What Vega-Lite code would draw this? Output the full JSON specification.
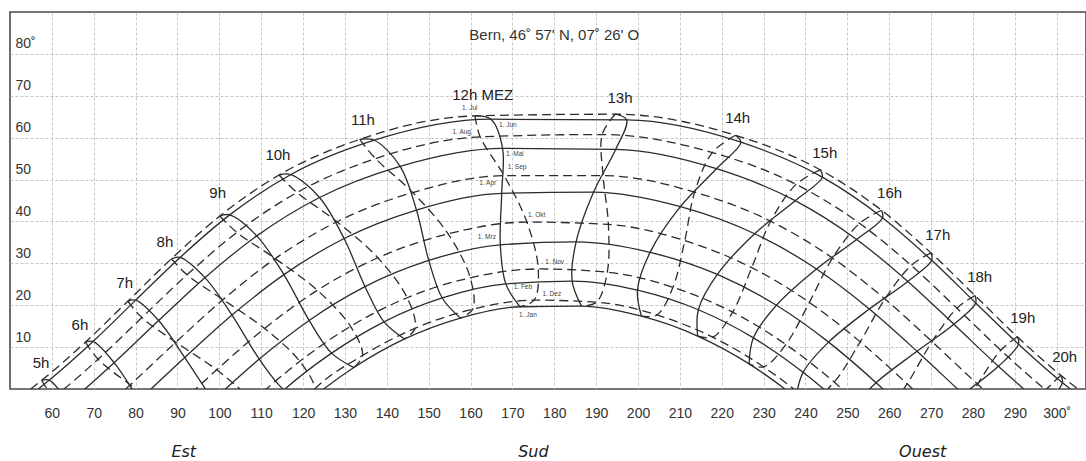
{
"$schema": "https://vega.github.io/schema/vega-lite/v6.json",
"width": 1076, "height": 377,
"autosize": {"type": "none"},
"padding": {"left": 10, "top": 12, "right": 0, "bottom": 72},
"background": "white",
"config": {
 "view": {"stroke": "#4a4a4a", "strokeWidth": 1.6},
 "axis": {"gridColor": "#b8b8b8", "gridDash": [3, 2], "gridWidth": 0.8, "labelFont": "Liberation Sans", "labelColor": "#333", "labelFontSize": 14, "ticks": false, "tickSize": 0, "domain": false, "labelFlush": false, "labelOverlap": false}
},
"datasets": {
 "pts": [
  {"d":1,"k":13,"h":8,"az":121.02,"alt":-3.09},{"d":1,"k":13,"h":9,"az":132.13,"alt":5.12},{"d":1,"k":13,"h":10,"az":144.26,"alt":11.95},{"d":1,"k":13,"h":11,"az":157.57,"alt":16.94},{"d":1,"k":13,"h":12,"az":171.82,"alt":19.64},{"d":1,"k":13,"h":13,"az":186.49,"alt":19.79},{"d":1,"k":13,"h":14,"az":200.83,"alt":17.37},{"d":1,"k":13,"h":15,"az":214.25,"alt":12.63},{"d":1,"k":13,"h":16,"az":226.53,"alt":6.00},{"d":1,"k":13,"h":17,"az":237.73,"alt":-2.08},
  {"d":1,"k":13,"az":124.92,"alt":0},{"d":1,"k":13,"az":235.08,"alt":0},
  {"d":2,"k":2,"h":8,"az":115.44,"alt":-0.20},{"d":2,"k":2,"h":9,"az":126.81,"alt":8.56},{"d":2,"k":2,"h":10,"az":139.33,"alt":16.04},{"d":2,"k":2,"h":11,"az":153.24,"alt":21.73},{"d":2,"k":2,"h":12,"az":168.42,"alt":25.09},{"d":2,"k":2,"h":13,"az":184.27,"alt":25.75},{"d":2,"k":2,"h":14,"az":199.87,"alt":23.60},{"d":2,"k":2,"h":15,"az":214.41,"alt":18.92},{"d":2,"k":2,"h":16,"az":227.56,"alt":12.21},{"d":2,"k":2,"h":17,"az":239.42,"alt":3.98},{"d":2,"k":2,"h":18,"az":250.36,"alt":-5.28},
  {"d":2,"k":2,"az":115.67,"alt":0},{"d":2,"k":2,"az":244.33,"alt":0},
  {"d":3,"k":3,"h":7,"az":98.46,"alt":-2.78},{"d":3,"k":3,"h":8,"az":109.54,"alt":7.14},{"d":3,"k":3,"h":9,"az":121.45,"alt":16.37},{"d":3,"k":3,"h":10,"az":134.80,"alt":24.43},{"d":3,"k":3,"h":11,"az":150.03,"alt":30.68},{"d":3,"k":3,"h":12,"az":167.11,"alt":34.43},{"d":3,"k":3,"h":13,"az":185.21,"alt":35.11},{"d":3,"k":3,"h":14,"az":202.88,"alt":32.62},{"d":3,"k":3,"h":15,"az":218.95,"alt":27.35},{"d":3,"k":3,"h":16,"az":233.06,"alt":19.99},{"d":3,"k":3,"h":17,"az":245.52,"alt":11.19},{"d":3,"k":3,"h":18,"az":256.87,"alt":1.51},
  {"d":3,"k":3,"az":101.47,"alt":0},{"d":3,"k":3,"az":258.53,"alt":0},
  {"d":4,"k":4,"h":6,"az":80.77,"alt":-2.69},{"d":4,"k":4,"h":7,"az":91.74,"alt":7.51},{"d":4,"k":4,"h":8,"az":103.03,"alt":17.65},{"d":4,"k":4,"h":9,"az":115.42,"alt":27.30},{"d":4,"k":4,"h":10,"az":129.80,"alt":35.93},{"d":4,"k":4,"h":11,"az":147.08,"alt":42.73},{"d":4,"k":4,"h":12,"az":167.44,"alt":46.70},{"d":4,"k":4,"h":13,"az":189.38,"alt":46.99},{"d":4,"k":4,"h":14,"az":210.11,"alt":43.52},{"d":4,"k":4,"h":15,"az":227.86,"alt":37.06},{"d":4,"k":4,"h":16,"az":242.63,"alt":28.65},{"d":4,"k":4,"h":17,"az":255.25,"alt":19.10},{"d":4,"k":4,"h":18,"az":266.64,"alt":9.01},{"d":4,"k":4,"h":19,"az":277.61,"alt":-1.21},
  {"d":4,"k":4,"az":83.69,"alt":0},{"d":4,"k":4,"az":276.31,"alt":0},
  {"d":5,"k":5,"h":5,"az":63.96,"alt":-3.30},{"d":5,"k":5,"h":6,"az":74.86,"alt":6.28},{"d":5,"k":5,"h":7,"az":85.50,"alt":16.35},{"d":5,"k":5,"h":8,"az":96.56,"alt":26.58},{"d":5,"k":5,"h":9,"az":108.94,"alt":36.55},{"d":5,"k":5,"h":10,"az":123.93,"alt":45.72},{"d":5,"k":5,"h":11,"az":143.17,"alt":53.16},{"d":5,"k":5,"h":12,"az":167.65,"alt":57.45},{"d":5,"k":5,"h":13,"az":194.68,"alt":57.22},{"d":5,"k":5,"h":14,"az":218.73,"alt":52.59},{"d":5,"k":5,"h":15,"az":237.54,"alt":44.96},{"d":5,"k":5,"h":16,"az":252.22,"alt":35.70},{"d":5,"k":5,"h":17,"az":264.44,"alt":25.68},{"d":5,"k":5,"h":18,"az":275.44,"alt":15.46},{"d":5,"k":5,"h":19,"az":286.08,"alt":5.41},{"d":5,"k":5,"h":20,"az":297.02,"alt":-4.11},
  {"d":5,"k":5,"az":67.88,"alt":0},{"d":5,"k":5,"az":292.12,"alt":0},
  {"d":6,"k":6,"h":5,"az":59.35,"alt":2.11},{"d":6,"k":6,"h":6,"az":69.83,"alt":11.35},{"d":6,"k":6,"h":7,"az":80.03,"alt":21.22},{"d":6,"k":6,"h":8,"az":90.62,"alt":31.41},{"d":6,"k":6,"h":9,"az":102.47,"alt":41.57},{"d":6,"k":6,"h":10,"az":117.10,"alt":51.20},{"d":6,"k":6,"h":11,"az":137.02,"alt":59.39},{"d":6,"k":6,"h":12,"az":164.85,"alt":64.41},{"d":6,"k":6,"h":13,"az":197.28,"alt":64.23},{"d":6,"k":6,"h":14,"az":224.56,"alt":58.91},{"d":6,"k":6,"h":15,"az":244.03,"alt":50.58},{"d":6,"k":6,"h":16,"az":258.40,"alt":40.89},{"d":6,"k":6,"h":17,"az":270.14,"alt":30.72},{"d":6,"k":6,"h":18,"az":280.66,"alt":20.54},{"d":6,"k":6,"h":19,"az":290.88,"alt":10.70},{"d":6,"k":6,"h":20,"az":301.38,"alt":1.51},
  {"d":6,"k":6,"az":56.72,"alt":0},{"d":6,"k":6,"az":303.28,"alt":0},
  {"d":7,"k":7,"h":5,"az":57.56,"alt":2.07},{"d":7,"k":7,"h":6,"az":68.00,"alt":11.17},{"d":7,"k":7,"h":7,"az":78.14,"alt":20.95},{"d":7,"k":7,"h":8,"az":88.55,"alt":31.10},{"d":7,"k":7,"h":9,"az":100.11,"alt":41.30},{"d":7,"k":7,"h":10,"az":114.26,"alt":51.08},{"d":7,"k":7,"h":11,"az":133.52,"alt":59.59},{"d":7,"k":7,"h":12,"az":161.05,"alt":65.19},{"d":7,"k":7,"h":13,"az":194.54,"alt":65.60},{"d":7,"k":7,"h":14,"az":223.28,"alt":60.57},{"d":7,"k":7,"h":15,"az":243.50,"alt":52.33},{"d":7,"k":7,"h":16,"az":258.16,"alt":42.67},{"d":7,"k":7,"h":17,"az":269.97,"alt":32.50},{"d":7,"k":7,"h":18,"az":280.47,"alt":22.32},{"d":7,"k":7,"h":19,"az":290.61,"alt":12.46},{"d":7,"k":7,"h":20,"az":300.98,"alt":3.26},
  {"d":7,"k":7,"az":54.92,"alt":0},{"d":7,"k":7,"az":305.08,"alt":0},
  {"d":8,"k":8,"h":5,"az":60.22,"alt":-2.20},{"d":8,"k":8,"h":6,"az":71.04,"alt":7.12},{"d":8,"k":8,"h":7,"az":81.50,"alt":17.05},{"d":8,"k":8,"h":8,"az":92.27,"alt":27.26},{"d":8,"k":8,"h":9,"az":104.19,"alt":37.38},{"d":8,"k":8,"h":10,"az":118.55,"alt":46.90},{"d":8,"k":8,"h":11,"az":137.32,"alt":55.00},{"d":8,"k":8,"h":12,"az":162.30,"alt":60.18},{"d":8,"k":8,"h":13,"az":191.43,"alt":60.75},{"d":8,"k":8,"h":14,"az":217.74,"alt":56.45},{"d":8,"k":8,"h":15,"az":237.76,"alt":48.85},{"d":8,"k":8,"h":16,"az":252.92,"alt":39.55},{"d":8,"k":8,"h":17,"az":265.25,"alt":29.50},{"d":8,"k":8,"h":18,"az":276.18,"alt":19.29},{"d":8,"k":8,"h":19,"az":286.65,"alt":9.26},{"d":8,"k":8,"h":20,"az":297.34,"alt":-0.22},
  {"d":8,"k":8,"az":62.92,"alt":0},{"d":8,"k":8,"az":297.08,"alt":0},
  {"d":9,"k":9,"h":6,"az":78.73,"alt":1.00},{"d":9,"k":9,"h":7,"az":89.61,"alt":11.17},{"d":9,"k":9,"h":8,"az":100.88,"alt":21.35},{"d":9,"k":9,"h":9,"az":113.35,"alt":31.13},{"d":9,"k":9,"h":10,"az":128.09,"alt":39.93},{"d":9,"k":9,"h":11,"az":146.19,"alt":46.90},{"d":9,"k":9,"h":12,"az":168.03,"alt":50.92},{"d":9,"k":9,"h":13,"az":191.66,"alt":50.94},{"d":9,"k":9,"h":14,"az":213.54,"alt":46.99},{"d":9,"k":9,"h":15,"az":231.69,"alt":40.04},{"d":9,"k":9,"h":16,"az":246.46,"alt":31.26},{"d":9,"k":9,"h":17,"az":258.97,"alt":21.49},{"d":9,"k":9,"h":18,"az":270.24,"alt":11.31},{"d":9,"k":9,"h":19,"az":281.12,"alt":1.13},
  {"d":9,"k":9,"az":77.64,"alt":0},{"d":9,"k":9,"az":282.36,"alt":0},
  {"d":10,"k":10,"h":6,"az":88.38,"alt":-5.61},{"d":10,"k":10,"h":7,"az":99.36,"alt":4.58},{"d":10,"k":10,"h":8,"az":110.80,"alt":14.45},{"d":10,"k":10,"h":9,"az":123.41,"alt":23.56},{"d":10,"k":10,"h":10,"az":137.86,"alt":31.33},{"d":10,"k":10,"h":11,"az":154.64,"alt":37.03},{"d":10,"k":10,"h":12,"az":173.46,"alt":39.85},{"d":10,"k":10,"h":13,"az":192.92,"alt":39.28},{"d":10,"k":10,"h":14,"az":211.17,"alt":35.42},{"d":10,"k":10,"h":15,"az":227.16,"alt":28.96},{"d":10,"k":10,"h":16,"az":240.93,"alt":20.67},{"d":10,"k":10,"h":17,"az":253.07,"alt":11.25},{"d":10,"k":10,"h":18,"az":264.28,"alt":1.23},{"d":10,"k":10,"h":19,"az":275.27,"alt":-8.99},
  {"d":10,"k":10,"az":94.39,"alt":0},{"d":10,"k":10,"az":265.61,"alt":0},
  {"d":11,"k":11,"h":7,"az":108.09,"alt":-2.77},{"d":11,"k":11,"h":8,"az":119.21,"alt":6.60},{"d":11,"k":11,"h":9,"az":131.34,"alt":14.95},{"d":11,"k":11,"h":10,"az":144.86,"alt":21.79},{"d":11,"k":11,"h":11,"az":159.93,"alt":26.54},{"d":11,"k":11,"h":12,"az":176.17,"alt":28.66},{"d":11,"k":11,"h":13,"az":192.66,"alt":27.88},{"d":11,"k":11,"h":14,"az":208.35,"alt":24.29},{"d":11,"k":11,"h":15,"az":222.60,"alt":18.34},{"d":11,"k":11,"h":16,"az":235.32,"alt":10.62},{"d":11,"k":11,"h":17,"az":246.85,"alt":1.66},{"d":11,"k":11,"h":18,"az":257.67,"alt":-8.08},
  {"d":11,"k":11,"az":111.22,"alt":0},{"d":11,"k":11,"az":248.78,"alt":0},
  {"d":12,"k":12,"h":8,"az":122.77,"alt":-0.02},{"d":12,"k":12,"h":9,"az":134.21,"alt":7.99},{"d":12,"k":12,"h":10,"az":146.76,"alt":14.50},{"d":12,"k":12,"h":11,"az":160.53,"alt":19.05},{"d":12,"k":12,"h":12,"az":175.20,"alt":21.21},{"d":12,"k":12,"h":13,"az":190.11,"alt":20.73},{"d":12,"k":12,"h":14,"az":204.51,"alt":17.68},{"d":12,"k":12,"h":15,"az":217.86,"alt":12.37},{"d":12,"k":12,"h":16,"az":230.00,"alt":5.27},{"d":12,"k":12,"h":17,"az":241.10,"alt":-3.16},
  {"d":12,"k":12,"az":122.79,"alt":0},{"d":12,"k":12,"az":237.21,"alt":0}
 ],
 "hourlabels": [
  {"t":"5h","az":57.4,"alt":6.2},{"t":"6h","az":66.7,"alt":15.3},{"t":"7h","az":77.4,"alt":25.3},{"t":"8h","az":87.0,"alt":35.1},
  {"t":"9h","az":99.6,"alt":46.8},{"t":"10h","az":114.0,"alt":55.8},{"t":"11h","az":134.3,"alt":64.2},{"t":"12h MEZ","az":162.9,"alt":70.2},
  {"t":"13h","az":195.7,"alt":69.4},{"t":"14h","az":223.8,"alt":64.7},{"t":"15h","az":244.6,"alt":56.3},{"t":"16h","az":260.1,"alt":46.8},
  {"t":"17h","az":271.6,"alt":36.8},{"t":"18h","az":281.6,"alt":26.7},{"t":"19h","az":291.9,"alt":16.9},{"t":"20h","az":301.9,"alt":7.6}
 ],
 "monthlabels": [
  {"t":"1. Jul","az":159.8,"alt":67.1},{"t":"1. Jun","az":168.9,"alt":63.0},{"t":"1. Aug","az":157.9,"alt":61.3},{"t":"1. Mai","az":170.6,"alt":56.1},
  {"t":"1. Sep","az":171.1,"alt":53.0},{"t":"1. Apr","az":164.1,"alt":49.2},{"t":"1. Okt","az":175.8,"alt":41.5},{"t":"1. Mrz","az":163.9,"alt":36.3},
  {"t":"1. Nov","az":180.1,"alt":30.3},{"t":"1. Feb","az":172.5,"alt":24.3},{"t":"1. Dez","az":179.4,"alt":22.7},{"t":"1. Jan","az":173.7,"alt":17.7}
 ],
 "titles": [
  {"t":"Bern, 46˚ 57' N, 07˚ 26' O","az":180.0,"alt":84.5}
 ],
 "dirs": [
  {"t":"Est","az":91.5,"alt":-15.0},{"t":"Sud","az":175.0,"alt":-15.0},{"t":"Ouest","az":268.0,"alt":-15.0}
 ]
},
"layer": [
 {
  "data": {"name": "pts"},
  "transform": [{"filter": "datum.d <= 6"}],
  "mark": {"type": "line", "clip": true, "interpolate": "monotone", "color": "#2b2b2b", "strokeWidth": 1.3},
  "encoding": {
   "x": {"field": "az", "type": "quantitative", "scale": {"domain": [50, 307], "nice": false, "zero": false},
    "axis": {"values": [60,70,80,90,100,110,120,130,140,150,160,170,180,190,200,210,220,230,240,250,260,270,280,290,300], "labelPadding": 17, "labelExpr": "datum.value == 300 ? '300˚' : datum.label", "title": null}},
   "y": {"field": "alt", "type": "quantitative", "scale": {"domain": [0, 90], "nice": false, "zero": false},
    "axis": {"values": [10,20,30,40,50,60,70,80], "labelAlign": "left", "labelPadding": -5, "labelBaseline": "middle", "labelOffset": -10, "labelExpr": "datum.value == 80 ? '80˚' : datum.label", "title": null}},
   "detail": {"field": "d", "type": "nominal"},
   "order": {"field": "az", "type": "quantitative"}
  }
 },
 {
  "data": {"name": "pts"},
  "transform": [{"filter": "datum.d >= 7"}],
  "mark": {"type": "line", "clip": true, "interpolate": "monotone", "color": "#2b2b2b", "strokeWidth": 1.3, "strokeDash": [9, 5]},
  "encoding": {
   "x": {"field": "az", "type": "quantitative"},
   "y": {"field": "alt", "type": "quantitative"},
   "detail": {"field": "d", "type": "nominal"},
   "order": {"field": "az", "type": "quantitative"}
  }
 },
 {
  "data": {"name": "pts"},
  "transform": [{"filter": {"field": "h", "valid": true}}, {"filter": "datum.d <= 7"}],
  "mark": {"type": "line", "clip": true, "interpolate": "catmull-rom", "color": "#2b2b2b", "strokeWidth": 1.3},
  "encoding": {
   "x": {"field": "az", "type": "quantitative"},
   "y": {"field": "alt", "type": "quantitative"},
   "detail": {"field": "h", "type": "nominal"},
   "order": {"field": "d", "type": "quantitative"}
  }
 },
 {
  "data": {"name": "pts"},
  "transform": [{"filter": {"field": "h", "valid": true}}, {"filter": "datum.d >= 7 || datum.d == 1"}],
  "mark": {"type": "line", "clip": true, "interpolate": "catmull-rom", "color": "#2b2b2b", "strokeWidth": 1.3, "strokeDash": [9, 5]},
  "encoding": {
   "x": {"field": "az", "type": "quantitative"},
   "y": {"field": "alt", "type": "quantitative"},
   "detail": {"field": "h", "type": "nominal"},
   "order": {"field": "k", "type": "quantitative"}
  }
 },
 {
  "data": {"name": "hourlabels"},
  "mark": {"type": "text", "font": "Liberation Sans", "fontSize": 15, "color": "#222", "align": "center", "baseline": "middle"},
  "encoding": {
   "x": {"field": "az", "type": "quantitative"},
   "y": {"field": "alt", "type": "quantitative"},
   "text": {"field": "t"}
  }
 },
 {
  "data": {"name": "monthlabels"},
  "mark": {"type": "text", "font": "Liberation Sans", "fontSize": 6.5, "color": "#444", "align": "center", "baseline": "middle"},
  "encoding": {
   "x": {"field": "az", "type": "quantitative"},
   "y": {"field": "alt", "type": "quantitative"},
   "text": {"field": "t"}
  }
 },
 {
  "data": {"name": "titles"},
  "mark": {"type": "text", "font": "Liberation Sans", "fontSize": 15, "color": "#333", "align": "center", "baseline": "middle"},
  "encoding": {
   "x": {"field": "az", "type": "quantitative"},
   "y": {"field": "alt", "type": "quantitative"},
   "text": {"field": "t"}
  }
 },
 {
  "data": {"name": "dirs"},
  "mark": {"type": "text", "font": "DejaVu Sans", "fontStyle": "italic", "fontSize": 16, "color": "#222", "align": "center", "baseline": "middle"},
  "encoding": {
   "x": {"field": "az", "type": "quantitative"},
   "y": {"field": "alt", "type": "quantitative"},
   "text": {"field": "t"}
  }
 }
]
}
